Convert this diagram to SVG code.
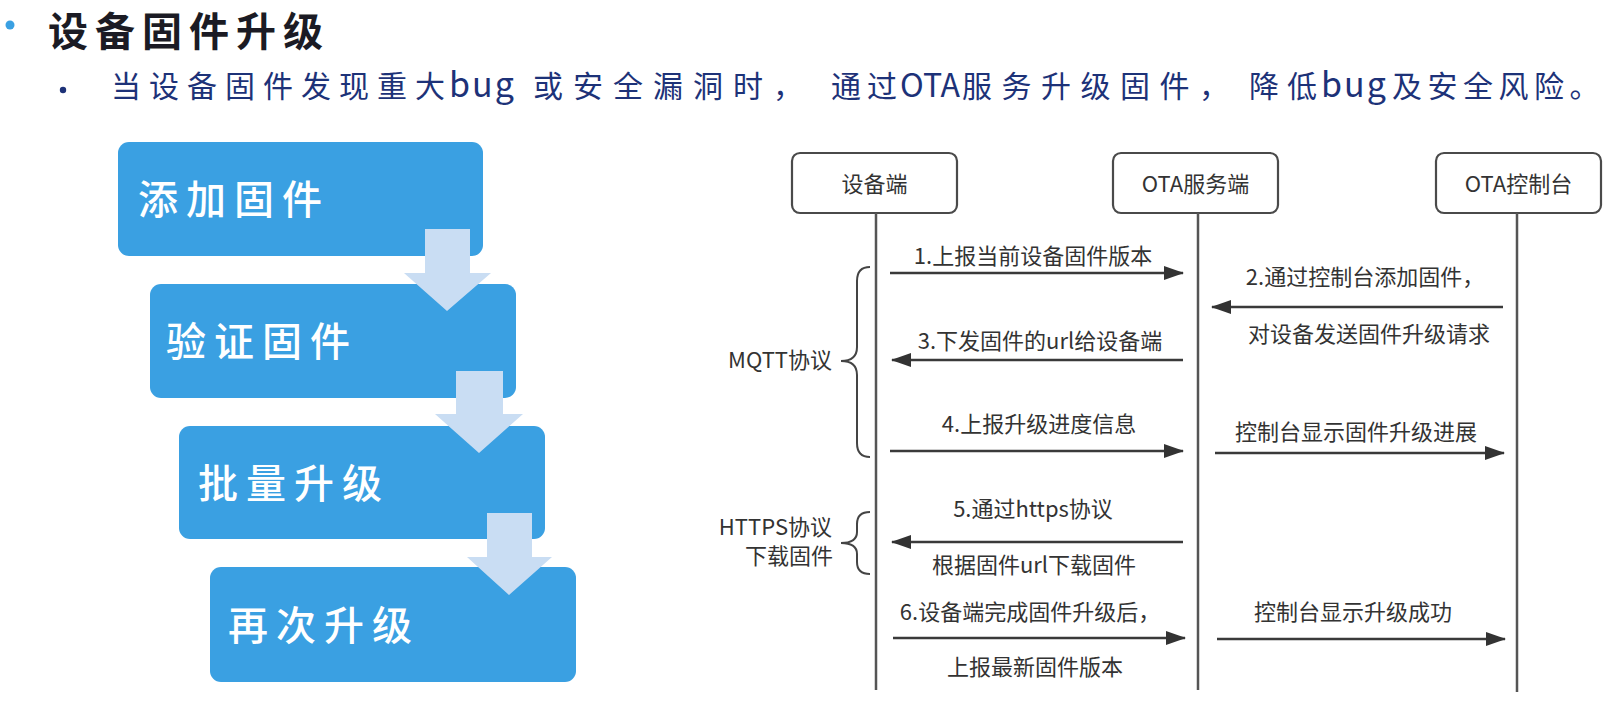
<svg xmlns="http://www.w3.org/2000/svg" width="1617" height="701" viewBox="0 0 1617 701">
<defs>
<style>
.cjk{font-family:"Noto Sans CJK SC","Noto Sans",sans-serif;}
.title{font-size:40px;font-weight:700;fill:#1b1b24;letter-spacing:7px;}
.sub{font-size:30px;fill:#1d3278;letter-spacing:8px;}
.lat{letter-spacing:2px;font-size:34px;}
.ota{letter-spacing:0px;font-size:32px;}
.box{fill:#3aa0e2;}
.boxtxt{font-size:40px;fill:#ffffff;letter-spacing:8px;font-weight:500;}
.down{fill:#c9ddf3;}
.part{fill:#ffffff;stroke:#4a4a4a;stroke-width:2.2;}
.ptxt{font-size:22px;fill:#333333;text-anchor:middle;}
.life{stroke:#555555;stroke-width:2.5;fill:none;}
.msg{stroke:#3a3a3a;stroke-width:2.5;fill:none;marker-end:url(#ah);}
.lbl{font-size:22px;fill:#333333;text-anchor:middle;}
.side{font-size:22px;fill:#333333;text-anchor:end;}
.brace{stroke:#444444;stroke-width:2;fill:none;}
</style>
<marker id="ah" viewBox="0 0 20 14" refX="19" refY="7" markerWidth="20" markerHeight="14" markerUnits="userSpaceOnUse" orient="auto">
<path d="M0,0 L20,7 L0,14 Z" fill="#333333"/>
</marker>
</defs>
<rect width="1617" height="701" fill="#ffffff"/>

<g id="heading">
<circle cx="10" cy="25" r="4.5" fill="#3aa0e2"/>
<text class="cjk title" x="48" y="46">设备固件升级</text>
<circle cx="63" cy="90" r="3.2" fill="#1d3278"/>
<text class="cjk sub" y="97"><tspan x="111">当设备固件发现重大</tspan><tspan class="lat" x="449">bug</tspan><tspan x="533" style="letter-spacing:10px">或安全漏洞时，</tspan><tspan x="831" style="letter-spacing:6px">通过</tspan><tspan class="ota" x="900">OTA</tspan><tspan x="962" style="letter-spacing:9.5px">服务升级固件，</tspan><tspan x="1249">降低</tspan><tspan class="lat" x="1321">bug</tspan><tspan x="1392" style="letter-spacing:5.5px">及安全风险。</tspan></text>
</g>

<g id="step1">
<rect class="box" x="118" y="142" width="365" height="114" rx="11"/>
<text class="cjk boxtxt" x="138" y="214">添加固件</text>
</g>
<g id="step2">
<rect class="box" x="150" y="284" width="366" height="114" rx="11"/>
<text class="cjk boxtxt" x="166" y="356">验证固件</text>
</g>
<g id="step3">
<rect class="box" x="179" y="426" width="366" height="113" rx="11"/>
<text class="cjk boxtxt" x="198" y="498">批量升级</text>
</g>
<g id="step4">
<rect class="box" x="210" y="567" width="366" height="115" rx="11"/>
<text class="cjk boxtxt" x="228" y="640">再次升级</text>
</g>

<g id="flow-arrows">
<path class="down" d="M425,229 L470,229 L470,273 L491,273 L447,311 L404,273 L425,273 Z"/>
<path class="down" d="M456,371 L503,371 L503,414 L523,414 L479,453 L435,414 L456,414 Z"/>
<path class="down" d="M487,513 L532,513 L532,557 L552,557 L509,595 L467,557 L487,557 Z"/>
</g>

<g id="device">
<rect class="part" x="792" y="153" width="165" height="60" rx="8"/>
<text class="cjk ptxt" x="874.5" y="192">设备端</text>
</g>
<g id="ota-server">
<rect class="part" x="1113" y="153" width="165" height="60" rx="8"/>
<text class="cjk ptxt" x="1195.5" y="192">OTA服务端</text>
</g>
<g id="ota-console">
<rect class="part" x="1436" y="153" width="165" height="60" rx="8"/>
<text class="cjk ptxt" x="1518.5" y="192">OTA控制台</text>
</g>

<g id="connectors">
<line class="life" x1="876" y1="213" x2="876" y2="690"/>
<line class="life" x1="1198" y1="213" x2="1198" y2="690"/>
<line class="life" x1="1517" y1="213" x2="1517" y2="692"/>

<line class="msg" x1="890" y1="273" x2="1183" y2="273"/>
<line class="msg" x1="1503" y1="307" x2="1212" y2="307"/>
<line class="msg" x1="1183" y1="360" x2="892" y2="360"/>
<line class="msg" x1="890" y1="451" x2="1183" y2="451"/>
<line class="msg" x1="1215" y1="453" x2="1504" y2="453"/>
<line class="msg" x1="1183" y1="542" x2="892" y2="542"/>
<line class="msg" x1="893" y1="638" x2="1185" y2="638"/>
<line class="msg" x1="1217" y1="639" x2="1505" y2="639"/>

<path class="brace" d="M870,267 Q857,267 857,281 L857,347 Q857,361 841,361 Q857,361 857,375 L857,443 Q857,457 870,457"/>
<path class="brace" d="M870,512 Q857,512 857,524 L857,532 Q857,543 841,543 Q857,543 857,554 L857,562 Q857,574 870,574"/>
</g>

<g id="labels">
<text class="cjk lbl" x="1033" y="264">1.上报当前设备固件版本</text>
<text class="cjk lbl" x="1365" y="285">2.通过控制台添加固件，</text>
<text class="cjk lbl" x="1369" y="342">对设备发送固件升级请求</text>
<text class="cjk lbl" x="1040" y="349">3.下发固件的url给设备端</text>
<text class="cjk lbl" x="1039" y="432">4.上报升级进度信息</text>
<text class="cjk lbl" x="1356" y="440">控制台显示固件升级进展</text>
<text class="cjk lbl" x="1033" y="517">5.通过https协议</text>
<text class="cjk lbl" x="1034" y="573">根据固件url下载固件</text>
<text class="cjk lbl" x="1030" y="620">6.设备端完成固件升级后，</text>
<text class="cjk lbl" x="1035" y="675">上报最新固件版本</text>
<text class="cjk lbl" x="1353" y="620">控制台显示升级成功</text>
<text class="cjk side" x="832" y="368">MQTT协议</text>
<text class="cjk side" x="832" y="535">HTTPS协议</text>
<text class="cjk side" x="833" y="564">下载固件</text>
</g>
</svg>
